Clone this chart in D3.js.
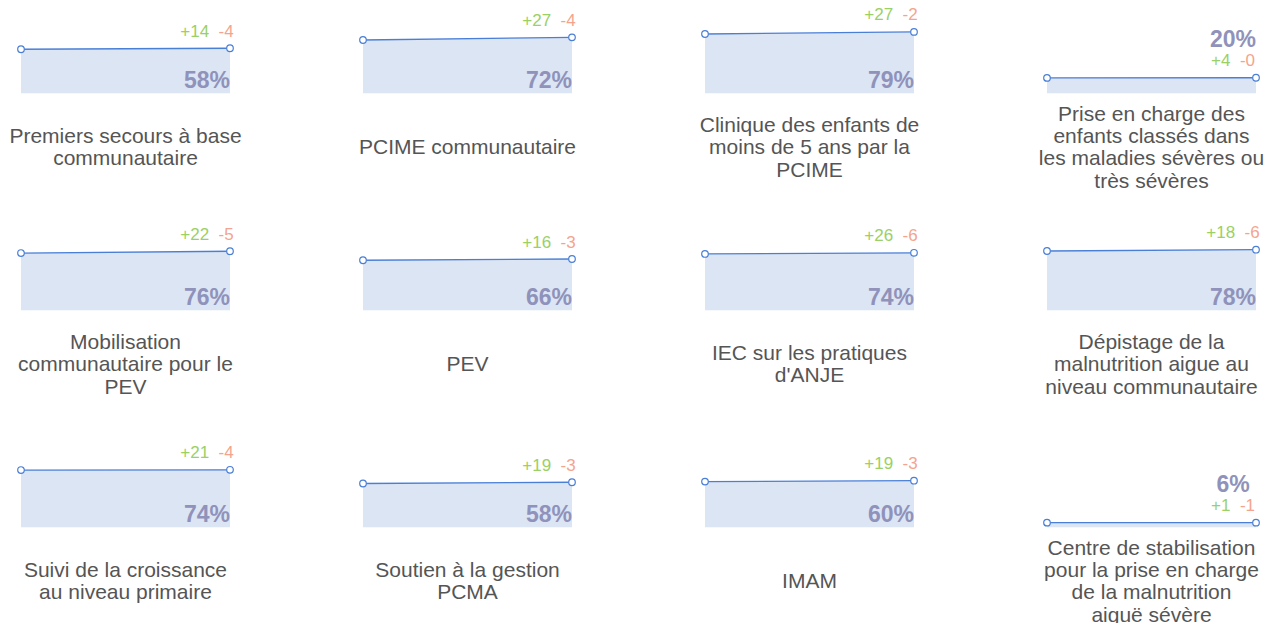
<!DOCTYPE html>
<html>
<head>
<meta charset="utf-8">
<script src="https://cdn.jsdelivr.net/npm/d3@7"></script>
<style>
  body { margin: 0; background: #fff; }
  svg { display: block; font-family: "Liberation Sans", Arial, sans-serif; }
  .titre { fill: #555; font-size: 21px; }
  .pct { fill: #8f92ba; font-size: 23px; font-weight: bold; }
  .delta { font-size: 17px; }
</style>
</head>
<body>
<svg width="1268" height="623"></svg>
<script>
// categories (lignes coupees comme dans l'image)
const categories = [
  "Premiers secours à base\ncommunautaire",
  "PCIME communautaire",
  "Clinique des enfants de\nmoins de 5 ans par la\nPCIME",
  "Prise en charge des\nenfants classés dans\nles maladies sévères ou\ntrès sévères",
  "Mobilisation\ncommunautaire pour le\nPEV",
  "PEV",
  "IEC sur les pratiques\nd'ANJE",
  "Dépistage de la\nmalnutrition aigue au\nniveau communautaire",
  "Suivi de la croissance\nau niveau primaire",
  "Soutien à la gestion\nPCMA",
  "IMAM",
  "Centre de stabilisation\npour la prise en charge\nde la malnutrition\naiguë sévère"
];
// valeur de depart et de fin (%)
const startValues = [56.7, 68.6, 76.3, 19.8, 73.7, 64.4, 72.5, 76.3, 73.7, 56.4, 58.8, 6];
const endValues   = [58, 72, 79, 20, 76, 66, 74, 78, 74, 58, 60, 6];
// hausses et baisses
const gains  = [14, 27, 27, 4, 22, 16, 26, 18, 21, 19, 19, 1];
const losses = [4, 4, 2, 0, 5, 3, 6, 6, 4, 3, 3, 1];

const svg = d3.select("svg");

const cols = 4,
  cellW = 342, cellH = 217,   // pas de la grille
  plotW = 209, plotH = 77.7,  // zone du mini graphique
  marginLeft = 21, marginTop = 15.6;

const x = d3.scaleLinear().domain([0, 1]).range([0, plotW]);
const y = d3.scaleLinear().domain([0, 100]).range([plotH, 0]);

const area = d3.area().x(d => x(d.i)).y0(y(0)).y1(d => y(d.v));
const line = d3.line().x(d => x(d.i)).y(d => y(d.v));

categories.forEach((cat, k) => {
  const g = svg.append("g")
    .attr("transform", `translate(${marginLeft + (k % cols) * cellW},${marginTop + Math.floor(k / cols) * cellH})`);

  const pts = [{i: 0, v: startValues[k]}, {i: 1, v: endValues[k]}];

  g.append("path").datum(pts)
    .attr("d", area)
    .attr("fill", "#dce5f4");

  g.append("path").datum(pts)
    .attr("d", line)
    .attr("fill", "none")
    .attr("stroke", "#4a7fd6")
    .attr("stroke-width", 1.3);

  g.selectAll("circle").data(pts).enter().append("circle")
    .attr("cx", d => x(d.i))
    .attr("cy", d => y(d.v))
    .attr("r", 3.3)
    .attr("fill", "#fff")
    .attr("stroke", "#4a7fd6")
    .attr("stroke-width", 1.2);

  const cx = x(1) - 23;           // centre des etiquettes
  const yEnd = y(endValues[k]);
  const deltaY = yEnd - 11.5;

  // +gains -pertes
  const t = g.append("text")
    .attr("class", "delta")
    .attr("x", cx).attr("y", deltaY)
    .attr("text-anchor", "middle");
  t.append("tspan").attr("fill", "#9bd065").text("+" + gains[k]);
  t.append("tspan").attr("dx", 9.5).attr("fill", "#f4a48e").text("-" + losses[k]);

  // pourcentage : dedans si assez de place, sinon au-dessus
  const inside = y(0) - yEnd > 40;
  g.append("text")
    .attr("class", "pct")
    .attr("x", cx)
    .attr("y", inside ? y(0) - 5 : deltaY - 19.5)
    .attr("text-anchor", "middle")
    .text(endValues[k] + "%");

  // titre centre sous le graphique
  const lines = cat.split("\n");
  const lh = 22.4;
  const tt = g.append("text")
    .attr("class", "titre")
    .attr("text-anchor", "middle");
  lines.forEach((l, j) => {
    tt.append("tspan")
      .attr("x", plotW / 2)
      .attr("y", y(0) + 61 - (lines.length - 1) * lh / 2 + j * lh)
      .text(l);
  });
});
</script>
</body>
</html>
